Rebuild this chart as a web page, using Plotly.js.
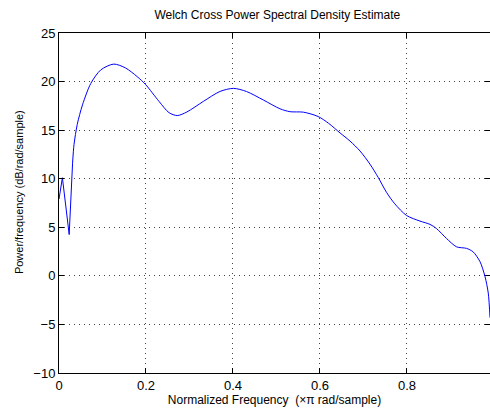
<!DOCTYPE html>
<html>
<head>
<meta charset="utf-8">
<script src="https://cdn.plot.ly/plotly-3.0.1.min.js"></script>
<style>html,body{margin:0;padding:0;background:#fff;}#chart{width:490px;height:409px;}</style>
</head>
<body>
<div id="chart"></div>
<script>
// Low-frequency segment (sharp, drawn with straight segments)
var freqLow = [0, 0.0078, 0.0156, 0.0234, 0.0312];
var powerLow = [7.9, 10.1, 7.2, 4.25, 11.6];
// Remaining smooth part of the estimate
var freqHigh = [0.0312, 0.0345, 0.042, 0.054, 0.073, 0.096, 0.126, 0.153, 0.180, 0.199,
  0.230, 0.253, 0.272, 0.294, 0.332, 0.370, 0.401, 0.431, 0.470, 0.508,
  0.531, 0.562, 0.596, 0.620, 0.646, 0.669, 0.692, 0.715, 0.734, 0.753,
  0.772, 0.799, 0.830, 0.853, 0.868, 0.891, 0.914, 0.937, 0.952, 0.968,
  0.9795, 0.987, 0.991];
var powerHigh = [11.6, 13.5, 15.6, 17.6, 19.8, 21.2, 21.8, 21.4, 20.5, 19.7,
  17.96, 16.8, 16.5, 16.87, 17.96, 18.98, 19.3, 18.98, 18.1, 17.2,
  16.9, 16.85, 16.4, 15.7, 14.72, 13.88, 12.86, 11.5, 10.13, 8.6,
  7.42, 6.22, 5.64, 5.3, 4.87, 3.85, 2.99, 2.83, 2.48, 1.46,
  -0.07, -1.77, -4.3];
var xTicks = [0, 0.2, 0.4, 0.6, 0.8];
var xTickText = ['0', '0.2', '0.4', '0.6', '0.8'];
var yTicks = [-10, -5, 0, 5, 10, 15, 20, 25];

var lineStyle = {color: '#0000ff', width: 1};
var traces = [
  {x: freqLow, y: powerLow, type: 'scatter', mode: 'lines', line: lineStyle, showlegend: false, hoverinfo: 'skip'},
  {x: freqHigh, y: powerHigh, type: 'scatter', mode: 'lines', line: Object.assign({shape: 'spline', smoothing: 0.8}, lineStyle), showlegend: false, hoverinfo: 'skip'}
];

var fontFam = 'Liberation Sans, Arial, Helvetica, sans-serif';
var axisCommon = {
  showline: true, linecolor: '#000', linewidth: 1, mirror: 'allticks',
  ticks: 'inside', ticklen: 5, tickcolor: '#000', tickwidth: 1,
  showgrid: true, gridcolor: '#444', griddash: '1px,4px', gridwidth: 1,
  zeroline: false, tickfont: {family: fontFam, size: 13, color: '#000'}
};
var layout = {
  width: 490, height: 409,
  margin: {l: 59, r: 0, t: 33, b: 36},
  paper_bgcolor: '#fff', plot_bgcolor: '#fff',
  font: {family: fontFam, color: '#000'},
  title: {text: 'Welch Cross Power Spectral Density Estimate', font: {family: fontFam, size: 12, color: '#000'}, x: 0.566, xanchor: 'center', y: 0.963, yanchor: 'middle'},
  xaxis: Object.assign({}, axisCommon, {
    range: [0, 0.991], tickvals: xTicks, ticktext: xTickText,
    title: {text: 'Normalized Frequency  (×π rad/sample)', font: {family: fontFam, size: 12, color: '#000'}, standoff: 2}
  }),
  yaxis: Object.assign({}, axisCommon, {
    range: [-10, 25], tickvals: yTicks
  }),
  annotations: [{
    text: 'Power/frequency (dB/rad/sample)', textangle: -90,
    xref: 'paper', yref: 'paper', x: -0.0928, y: 0.532,
    xanchor: 'center', yanchor: 'middle', showarrow: false,
    font: {family: fontFam, size: 11, color: '#000'}
  }]
};
Plotly.newPlot('chart', traces, layout, {staticPlot: true, displayModeBar: false});
</script>
</body>
</html>
